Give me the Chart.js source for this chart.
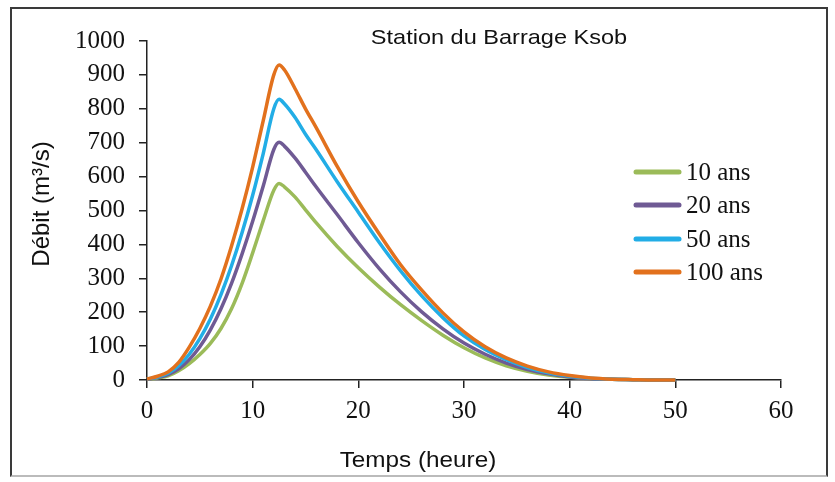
<!DOCTYPE html>
<html>
<head>
<meta charset="utf-8">
<script src="https://cdn.jsdelivr.net/npm/chart.js@4.4.1/dist/chart.umd.min.js"></script>
<style>
  html, body { margin: 0; padding: 0; background: #fff; }
  #wrap { position: relative; width: 835px; height: 482px; }
  #frame { position: absolute; left: 10px; top: 7px; width: 818px; height: 470px;
           border: 2px solid #3a3a3a; border-bottom-color: #bbb; box-sizing: border-box; }
  canvas { position: absolute; left: 0; top: 0; }
</style>
</head>
<body>
<div id="wrap">
  <div id="frame"></div>
  <canvas id="hydro" width="835" height="482"></canvas>
</div>
<script>
// temps (heure)
const times = [0,1,2,3,4,5,6,7,8,9,10,11,12,12.5,13,14,15,16,18,20,22,24,26,28,30,32,34,36,38,40,42,44,46,48,50];

// débit (m3/s) par période de retour
const q10  = [2,6,12,27,48,75,108,152,210,285,375,470,560,580,570,540,502,464,394,331,274,222,175,132,95,65,42,26,15,8,4,2,1,0,0];
const q20  = [2,7,16,33,60,98,148,210,285,372,468,572,680,701,690,655,613,570,488,405,328,260,201,151,109,76,50,31,18,9,4,2,1,0,0];
const q50  = [3,9,20,42,76,122,180,252,337,435,545,668,800,828,815,775,725,680,585,495,405,322,248,184,130,90,60,37,21,11,5,2,1,0,0];
const q100 = [3,11,24,52,97,152,218,298,395,505,628,765,900,929,915,860,800,745,630,525,430,340,265,198,142,98,65,41,24,13,6,2.5,1,0,0];

const labels = ['10 ans', '20 ans', '50 ans', '100 ans'];
const colors = ['#9bbb59', '#6f5a94', '#22ade6', '#e2711d'];
const series = [q10, q20, q50, q100];

const serif = "'Liberation Serif', 'Times New Roman', serif";
const sans = "'Liberation Sans', Arial, sans-serif";

const datasets = series.map(function(vals, i){
  return {
    label: labels[i],
    data: times.map(function(t, k){ return {x: t, y: vals[k]}; }),
    borderColor: colors[i],
    backgroundColor: colors[i],
    borderWidth: 3.5,
    pointRadius: 0,
    cubicInterpolationMode: 'monotone',
    fill: false,
    clip: false,
    order: 3 - i
  };
});

// titre, titres d'axes et légende dessinés à la main
const decor = {
  id: 'decor',
  afterDraw: function(chart){
    const ctx = chart.ctx;
    ctx.save();
    ctx.fillStyle = '#111';
    ctx.textBaseline = 'middle';
    ctx.textAlign = 'center';

    // titre
    ctx.save();
    ctx.translate(499, 38);
    ctx.scale(1.12, 1);
    ctx.font = '21px ' + sans;
    ctx.fillText('Station du Barrage Ksob', 0, 0);
    ctx.restore();

    // titre axe x
    ctx.save();
    ctx.translate(418, 461);
    ctx.scale(1.13, 1);
    ctx.font = '21.5px ' + sans;
    ctx.fillText('Temps (heure)', 0, 0);
    ctx.restore();

    // titre axe y
    ctx.save();
    ctx.translate(42, 204);
    ctx.rotate(-Math.PI / 2);
    ctx.font = '24px ' + sans;
    ctx.fillText('Débit (m³/s)', 0, 0);
    ctx.restore();

    // légende
    const rows = [172, 205, 239, 272];
    ctx.textAlign = 'left';
    ctx.font = '25px ' + serif;
    chart.data.datasets.forEach(function(ds, i){
      ctx.strokeStyle = ds.borderColor;
      ctx.lineWidth = 5;
      ctx.lineCap = 'round';
      ctx.beginPath();
      ctx.moveTo(636, rows[i]);
      ctx.lineTo(679, rows[i]);
      ctx.stroke();
      ctx.fillStyle = '#111';
      ctx.fillText(ds.label, 686, rows[i] + 1);
    });
    ctx.restore();
  }
};

new Chart(document.getElementById('hydro').getContext('2d'), {
  type: 'line',
  data: { datasets: datasets },
  options: {
    responsive: false,
    animation: false,
    layout: { padding: { top: 41, right: 54, bottom: 0, left: 0 } },
    plugins: { legend: { display: false }, tooltip: { enabled: false } },
    scales: {
      x: {
        type: 'linear',
        min: 0, max: 60,
        ticks: { stepSize: 10, color: '#111', font: { family: serif, size: 25 }, padding: 8, maxRotation: 0,
                 callback: function(v){ return String(v); } },
        grid: { display: true, drawOnChartArea: false, drawTicks: true, tickLength: 8, color: '#222', lineWidth: 1.5 },
        border: { display: true, color: '#222', width: 1.5 },
        afterFit: function(scale){ scale.height = 102; }
      },
      y: {
        min: 0, max: 1000,
        ticks: { stepSize: 100, color: '#111', font: { family: serif, size: 25 }, padding: 14,
                 callback: function(v){ return String(v); } },
        grid: { display: true, drawOnChartArea: false, drawTicks: true, tickLength: 8, color: '#222', lineWidth: 1.5 },
        border: { display: true, color: '#222', width: 1.5 },
        afterFit: function(scale){ scale.width = 147; }
      }
    }
  },
  plugins: [decor]
});
</script>
</body>
</html>
